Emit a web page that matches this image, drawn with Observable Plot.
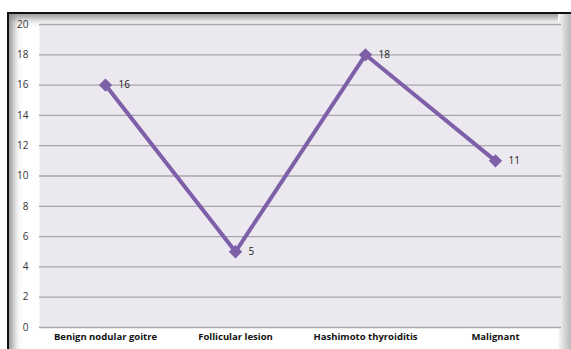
<!DOCTYPE html>
<html>
<head>
<meta charset="utf-8">
<script src="https://cdn.jsdelivr.net/npm/d3@7"></script>
<script src="https://cdn.jsdelivr.net/npm/@observablehq/plot@0.6"></script>
<style>
  html, body { margin: 0; padding: 0; background: #fff; }
  #wrap { position: relative; width: 571px; height: 349px; overflow: hidden; }
  #frame {
    position: absolute; left: 7px; top: 12px; width: 570px; height: 345px;
    border-left: 2px solid #111; border-top: 2px solid #111;
    background: #fff;
    box-shadow: inset 7px 7px 8px -3px #8a8a8a;
  }
  #rshadow {
    position: absolute; left: 558px; top: 14px; width: 13px; height: 335px;
    background: linear-gradient(to right, #fafafa, #d0d0d0 60%, #b8b8b8);
  }
  #chart { position: absolute; left: 0; top: 0; }
</style>
</head>
<body>
<div id="wrap">
  <div id="frame"></div>
  <div id="rshadow"></div>
  <div id="chart"></div>
</div>
<script>
const categories = ["Benign nodular goitre", "Follicular lesion", "Hashimoto thyroiditis", "Malignant"];
const values = [16, 5, 18, 11];
const yTicks = [0, 2, 4, 6, 8, 10, 12, 14, 16, 18, 20];

const data = categories.map((c, i) => ({category: c, value: values[i]}));

const chart = Plot.plot({
  width: 571,
  height: 349,
  marginLeft: 39,
  marginRight: 10,
  marginTop: 24,
  marginBottom: 22,
  style: {background: "transparent", fontFamily: "'Open Sans', sans-serif", color: "#222", overflow: "visible"},
  x: {type: "band", domain: categories, padding: 0, label: null},
  y: {domain: [0, 20], ticks: yTicks, label: null},
  marks: [
    Plot.frame({fill: "#ebe9ef", stroke: null}),
    Plot.gridY(yTicks, {stroke: "#a8a6ab", strokeOpacity: 1, strokeWidth: 1.3}),
    Plot.axisY(yTicks, {tickSize: 0, tickPadding: 11, fontSize: 10, fill: "#333", tickFormat: d => String(d)}),
    Plot.axisX({tickSize: 0, tickPadding: 6, fontSize: 9.5, fontWeight: "bold", fill: "#111"}),
    Plot.line(data, {x: "category", y: "value", stroke: "#7e60a8", strokeWidth: 4, strokeLinejoin: "miter"}),
    Plot.dot(data, {x: "category", y: "value", symbol: "diamond2", r: 6, fill: "#7e60a8", stroke: null}),
    Plot.text(data, {x: "category", y: "value", text: d => String(d.value), dx: 13, textAnchor: "start", fontSize: 10, fill: "#222"})
  ]
});
document.getElementById("chart").appendChild(chart);
</script>
</body>
</html>
